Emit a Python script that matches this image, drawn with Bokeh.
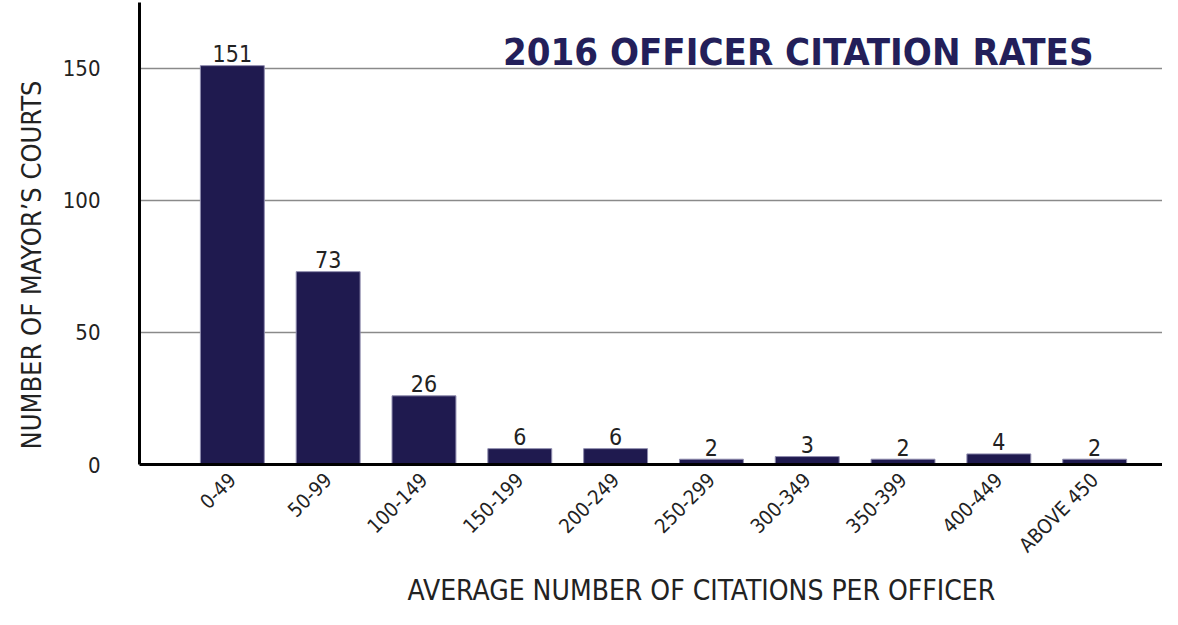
from bokeh.plotting import figure
from bokeh.models import ColumnDataSource, FixedTicker, Range1d, Label, Title
from bokeh.core.properties import value
from bokeh.embed import file_html
from bokeh.resources import INLINE
import math

categories = ["0-49", "50-99", "100-149", "150-199", "200-249", "250-299",
              "300-349", "350-399", "400-449", "ABOVE 450"]
courts = [151, 73, 26, 6, 6, 2, 3, 2, 4, 2]
y_ticks = [0, 50, 100, 150]

title_text = "2016 OFFICER CITATION RATES"
x_label = "AVERAGE NUMBER OF CITATIONS PER OFFICER"
y_label = "NUMBER OF MAYOR\u2019S COURTS"

NAVY = "#1f1a4f"
FONT = "'DejaVu Sans Condensed', 'Roboto', sans-serif"

xs = list(range(len(categories)))
src = ColumnDataSource(dict(x=xs, top=courts, lab=[str(v) for v in courts]))

p = figure(width=1162, height=609, output_backend="svg", toolbar_location=None,
           x_range=Range1d(-0.969, 9.708), y_range=Range1d(0, 174.9),
           min_border_left=137, min_border_right=0, min_border_top=2,
           min_border_bottom=144)
p.outline_line_color = None
p.background_fill_color = "white"

p.vbar(x="x", top="top", width=0.667, source=src, fill_color=NAVY,
       line_color="#8f8cae", line_width=1)
p.text(x="x", y="top", text="lab", source=src, text_align="center",
       text_baseline="alphabetic", y_offset=-12, text_font=value(FONT),
       text_font_size="23px", text_color="#222222")

# axes
p.xaxis.ticker = FixedTicker(ticks=xs)
p.xaxis.major_label_overrides = {i: c for i, c in zip(xs, categories)}
p.xaxis.major_label_orientation = math.pi / 4
p.xaxis.major_label_text_font = FONT
p.xaxis.major_label_text_font_size = "20px"
p.xaxis.major_label_text_color = "#222222"
p.xaxis.major_label_standoff = 6
p.xaxis.axis_line_width = 3
p.xaxis.axis_line_color = "black"
p.xaxis.major_tick_line_color = None
p.xaxis.minor_tick_line_color = None

p.yaxis.ticker = FixedTicker(ticks=y_ticks)
p.yaxis.major_label_text_font = FONT
p.yaxis.major_label_text_font_size = "22px"
p.yaxis.major_label_text_color = "#222222"
p.yaxis.major_label_standoff = 33
p.yaxis.axis_line_width = 3
p.yaxis.axis_line_color = "black"
p.yaxis.major_tick_line_color = None
p.yaxis.minor_tick_line_color = None

p.xgrid.grid_line_color = None
p.ygrid.ticker = FixedTicker(ticks=[50, 100, 150])
p.ygrid.grid_line_color = "#8a8a8a"
p.ygrid.grid_line_width = 1.5

p.add_layout(Label(x=5.906, y=156.0, text=title_text, text_align="center",
                   text_baseline="alphabetic", text_font=FONT,
                   text_font_size="38px", text_font_style="bold",
                   text_color="#231f5a"))
p.add_layout(Title(text=x_label, align="left", offset=268, standoff=6,
                   text_font=FONT, text_font_size="28px",
                   text_font_style="normal", text_color="#222222"), "below")
p.add_layout(Title(text=y_label, align="left", offset=15, standoff=26,
                   text_font=FONT, text_font_size="27px",
                   text_font_style="normal", text_color="#222222"), "left")

open("out.html", "w").write(file_html(p, INLINE))
